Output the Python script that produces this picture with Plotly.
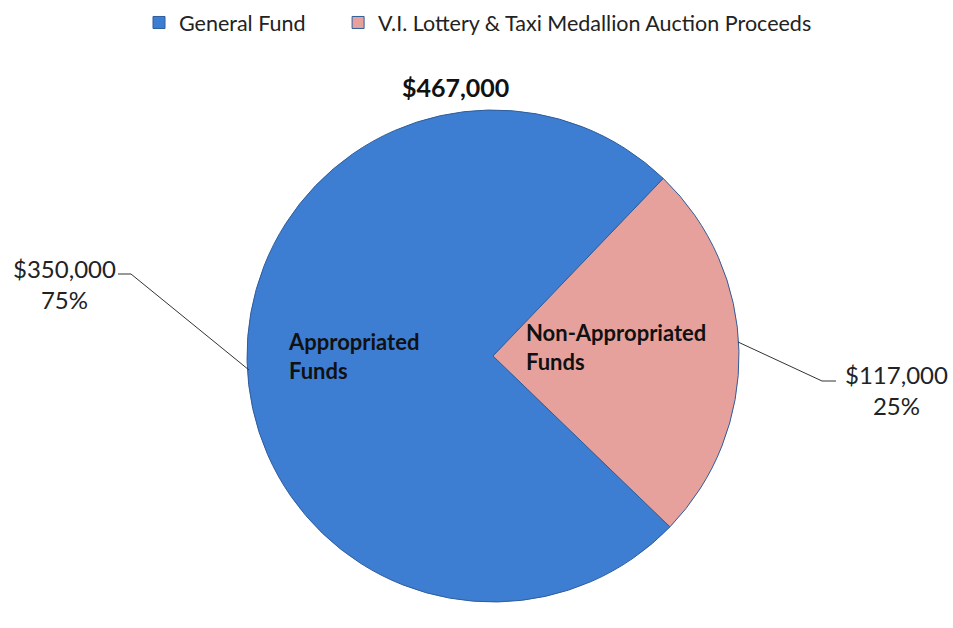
import plotly.graph_objects as go

W, H = 953, 628

legend_labels = ["General Fund", "V.I. Lottery & Taxi Medallion Auction Proceeds"]
slice_names = ["Appropriated Funds", "Non-Appropriated Funds"]
values = [350000, 117000]
percents = ["75%", "25%"]
total_label = "$467,000"
colors = ["#3e7ed2", "#e6a19d"]

FONT = "Lato"

def px(x):
    return x / W

def py(y):
    return 1 - y / H

cx, cy, r = 493, 356, 246

# pad the first legend entry so the second entry starts where it does in the reference
legend_text = [legend_labels[0] + "\u00a0" * 5, legend_labels[1]]

fig = go.Figure()
fig.add_trace(go.Pie(
    labels=legend_text,
    values=values,
    sort=False,
    direction="counterclockwise",
    rotation=134,
    textinfo="none",
    marker=dict(colors=colors, line=dict(color="#2f5d9a", width=1)),
    domain=dict(x=[px(cx - r), px(cx + r)], y=[py(cy + r), py(cy - r)]),
    customdata=[[n, l] for n, l in zip(slice_names, legend_labels)],
    hovertemplate="%{customdata[0][1]}<br>%{customdata[0][0]}<br>$%{value:,}<br>%{percent}<extra></extra>",
))

def money(v):
    return "${:,}".format(v)

annotations = [
    dict(x=px(455), y=py(87), text="<b>" + total_label + "</b>", font=dict(size=25, color="#111")),
    dict(x=px(64), y=py(284), text=money(values[0]) + "<br>" + percents[0], font=dict(size=24, color="#222")),
    dict(x=px(896), y=py(390), text=money(values[1]) + "<br>" + percents[1], font=dict(size=24, color="#222")),
    dict(x=px(286), y=py(356), text="<b>Appropriated<br>Funds</b>", xanchor="left", align="left",
         font=dict(size=22, color="#111")),
    dict(x=px(524), y=py(347), text="<b>Non-Appropriated<br>Funds</b>", xanchor="left", align="left",
         font=dict(size=22, color="#111")),
]
for a in annotations:
    a.update(xref="paper", yref="paper", showarrow=False)
    a.setdefault("xanchor", "center")
    a.setdefault("yanchor", "middle")
    a["font"]["family"] = FONT

line_style = dict(color="#333", width=1)
shapes = [
    dict(type="line", x0=px(118), y0=py(274), x1=px(131), y1=py(274)),
    dict(type="line", x0=px(131), y0=py(274), x1=px(249), y1=py(370)),
    dict(type="line", x0=px(738), y0=py(342), x1=px(822), y1=py(381)),
    dict(type="line", x0=px(822), y0=py(381), x1=px(836), y1=py(381)),
]
for s in shapes:
    s.update(xref="paper", yref="paper", line=line_style)

fig.update_layout(
    width=W, height=H,
    margin=dict(l=0, r=0, t=0, b=0),
    paper_bgcolor="white",
    plot_bgcolor="white",
    font=dict(family=FONT, color="#222"),
    showlegend=True,
    legend=dict(orientation="h", x=px(139), y=py(2), xanchor="left", yanchor="top",
                font=dict(size=21.5, color="#222"), itemclick=False, itemdoubleclick=False),
    annotations=annotations,
    shapes=shapes,
)

fig.write_html("out.html", config={"displayModeBar": False},
               post_script="document.body.style.margin='0';")
